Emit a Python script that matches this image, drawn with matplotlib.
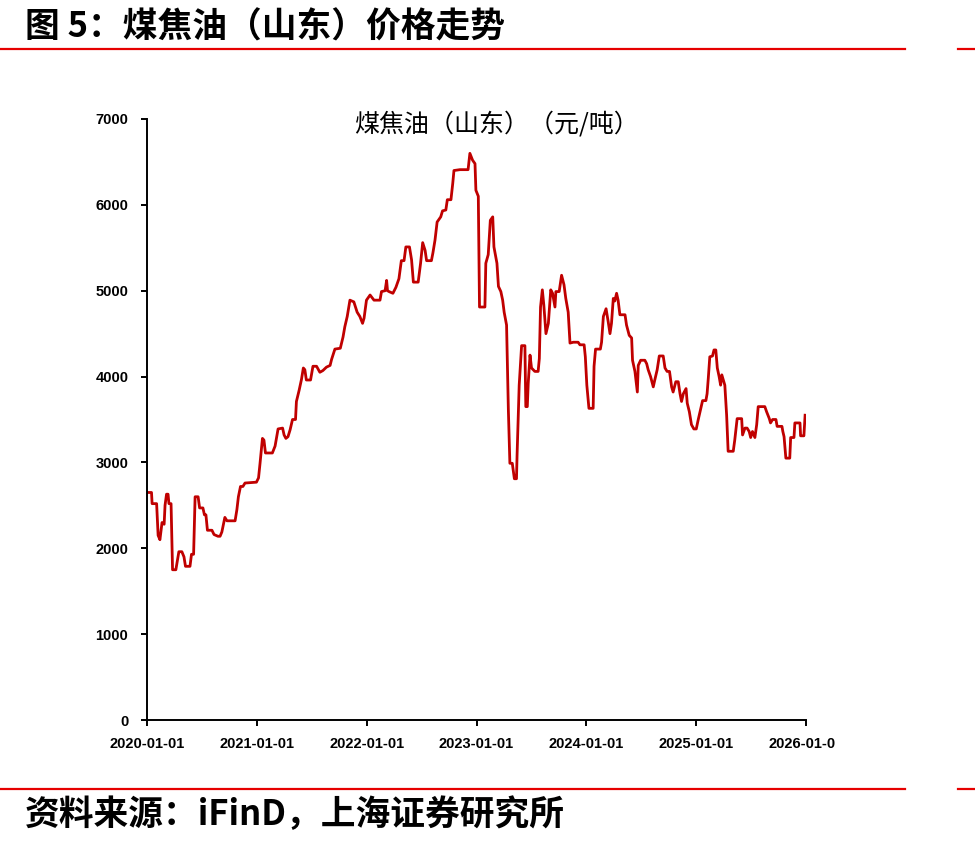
import matplotlib
matplotlib.use("Agg")
import matplotlib.pyplot as plt
import matplotlib.dates as mdates
from matplotlib.lines import Line2D
from matplotlib.transforms import Bbox, TransformedBbox
import pandas as pd

plt.rcParams['font.family'] = ['Liberation Sans', 'Noto Sans CJK SC', 'DejaVu Sans']
CJK = ['Noto Sans CJK SC', 'DejaVu Sans']

# 煤焦油（山东）价格，元/吨
dates = [
    "2020-01-01", "2020-01-16", "2020-01-18", "2020-02-02", "2020-02-07", "2020-02-13", "2020-02-20", "2020-02-27", "2020-03-01", "2020-03-06",
    "2020-03-11", "2020-03-14", "2020-03-21", "2020-03-26", "2020-04-06", "2020-04-16", "2020-04-26", "2020-05-03", "2020-05-08", "2020-05-23",
    "2020-05-28", "2020-06-04", "2020-06-09", "2020-06-19", "2020-06-24", "2020-07-05", "2020-07-10", "2020-07-15", "2020-07-20", "2020-08-04",
    "2020-08-11", "2020-08-24", "2020-08-31", "2020-09-06", "2020-09-16", "2020-09-23", "2020-10-20", "2020-10-26", "2020-10-31", "2020-11-07",
    "2020-11-15", "2020-11-22", "2020-12-30", "2021-01-06", "2021-01-11", "2021-01-19", "2021-01-24", "2021-01-29", "2021-02-21", "2021-03-02",
    "2021-03-12", "2021-03-27", "2021-04-01", "2021-04-07", "2021-04-14", "2021-04-21", "2021-04-29", "2021-05-09", "2021-05-12", "2021-05-21",
    "2021-05-29", "2021-06-04", "2021-06-09", "2021-06-14", "2021-06-28", "2021-07-06", "2021-07-18", "2021-07-29", "2021-08-08", "2021-08-20",
    "2021-09-01", "2021-09-06", "2021-09-17", "2021-10-05", "2021-10-14", "2021-10-20", "2021-10-28", "2021-11-06", "2021-11-19", "2021-11-30",
    "2021-12-09", "2021-12-18", "2021-12-23", "2021-12-31", "2022-01-12", "2022-01-25", "2022-02-14", "2022-02-19", "2022-03-03", "2022-03-08",
    "2022-03-11", "2022-03-16", "2022-03-29", "2022-04-08", "2022-04-18", "2022-04-26", "2022-05-05", "2022-05-11", "2022-05-23", "2022-05-30",
    "2022-06-05", "2022-06-21", "2022-06-29", "2022-07-06", "2022-07-14", "2022-07-19", "2022-08-04", "2022-08-09", "2022-08-16", "2022-08-23",
    "2022-09-04", "2022-09-10", "2022-09-21", "2022-09-26", "2022-10-08", "2022-10-14", "2022-10-18", "2022-11-07", "2022-12-04", "2022-12-10",
    "2022-12-19", "2022-12-27", "2022-12-30", "2023-01-07", "2023-01-11", "2023-01-29", "2023-02-01", "2023-02-09", "2023-02-16", "2023-02-24",
    "2023-02-28", "2023-03-10", "2023-03-15", "2023-03-23", "2023-03-29", "2023-04-03", "2023-04-11", "2023-04-17", "2023-04-22", "2023-04-30",
    "2023-05-07", "2023-05-14", "2023-05-16", "2023-05-23", "2023-05-31", "2023-06-11", "2023-06-14", "2023-06-19", "2023-06-22", "2023-06-28",
    "2023-07-03", "2023-07-14", "2023-07-25", "2023-07-29", "2023-08-02", "2023-08-08", "2023-08-13", "2023-08-20", "2023-08-28", "2023-09-05",
    "2023-09-11", "2023-09-19", "2023-09-22", "2023-10-03", "2023-10-11", "2023-10-19", "2023-10-25", "2023-11-02", "2023-11-08", "2023-11-19",
    "2023-12-05", "2023-12-11", "2023-12-25", "2023-12-29", "2024-01-03", "2024-01-10", "2024-01-24", "2024-01-27", "2024-02-01", "2024-02-17",
    "2024-02-21", "2024-02-27", "2024-03-07", "2024-03-14", "2024-03-20", "2024-03-25", "2024-03-31", "2024-04-05", "2024-04-11", "2024-04-16",
    "2024-04-22", "2024-05-09", "2024-05-14", "2024-05-23", "2024-05-31", "2024-06-03", "2024-06-11", "2024-06-19", "2024-06-22", "2024-06-30",
    "2024-07-14", "2024-07-20", "2024-07-25", "2024-08-02", "2024-08-11", "2024-08-16", "2024-08-24", "2024-08-31", "2024-09-13", "2024-09-19",
    "2024-09-26", "2024-10-04", "2024-10-11", "2024-10-16", "2024-10-25", "2024-11-02", "2024-11-08", "2024-11-13", "2024-11-19", "2024-11-28",
    "2024-12-02", "2024-12-09", "2024-12-16", "2024-12-24", "2025-01-01", "2025-01-07", "2025-01-15", "2025-01-22", "2025-02-02", "2025-02-06",
    "2025-02-10", "2025-02-15", "2025-02-24", "2025-03-01", "2025-03-07", "2025-03-12", "2025-03-18", "2025-03-23", "2025-03-27", "2025-04-01",
    "2025-04-06", "2025-04-12", "2025-04-17", "2025-05-04", "2025-05-09", "2025-05-17", "2025-06-01", "2025-06-04", "2025-06-12", "2025-06-19",
    "2025-06-26", "2025-07-01", "2025-07-07", "2025-07-15", "2025-07-21", "2025-07-26", "2025-08-17", "2025-08-23", "2025-09-01", "2025-09-05",
    "2025-09-12", "2025-09-23", "2025-09-27", "2025-10-13", "2025-10-16", "2025-10-20", "2025-10-26", "2025-11-08", "2025-11-11", "2025-11-22",
    "2025-11-25", "2025-12-12", "2025-12-14", "2025-12-25", "2025-12-29",
]
prices = [
    2650, 2650, 2520, 2520, 2150, 2100, 2300, 2280, 2500, 2630,
    2630, 2520, 2520, 1750, 1750, 1960, 1960, 1900, 1790, 1790,
    1930, 1930, 2600, 2600, 2470, 2470, 2390, 2390, 2210, 2210,
    2160, 2140, 2140, 2190, 2360, 2320, 2320, 2450, 2600, 2720,
    2720, 2760, 2770, 2820, 2990, 3280, 3260, 3110, 3110, 3190,
    3390, 3400, 3320, 3280, 3300, 3380, 3500, 3500, 3710, 3840,
    3970, 4100, 4080, 3960, 3960, 4120, 4120, 4050, 4070, 4110,
    4130, 4200, 4320, 4330, 4460, 4580, 4700, 4890, 4870, 4750,
    4700, 4620, 4680, 4890, 4950, 4890, 4890, 4990, 5000, 5120,
    5000, 4990, 4970, 5040, 5140, 5350, 5350, 5510, 5510, 5360,
    5100, 5100, 5320, 5560, 5470, 5350, 5350, 5440, 5590, 5800,
    5860, 5930, 5940, 6060, 6060, 6250, 6400, 6410, 6410, 6600,
    6520, 6480, 6170, 6100, 4810, 4810, 5320, 5420, 5820, 5860,
    5510, 5320, 5050, 4990, 4890, 4750, 4600, 3610, 2990, 2990,
    2810, 2810, 3090, 3900, 4360, 4360, 3650, 3650, 3920, 4250,
    4100, 4060, 4060, 4210, 4810, 5010, 4830, 4500, 4620, 5010,
    4970, 4810, 4990, 4990, 5180, 5070, 4910, 4750, 4390, 4400,
    4400, 4370, 4370, 4230, 3900, 3630, 3630, 4120, 4320, 4320,
    4400, 4700, 4790, 4640, 4500, 4620, 4910, 4880, 4970, 4890,
    4720, 4720, 4600, 4480, 4450, 4190, 4060, 3820, 4130, 4190,
    4190, 4150, 4080, 4000, 3880, 3960, 4080, 4240, 4240, 4100,
    4060, 4060, 3880, 3820, 3940, 3940, 3800, 3710, 3800, 3860,
    3690, 3590, 3440, 3390, 3390, 3490, 3610, 3720, 3720, 3800,
    3980, 4230, 4240, 4310, 4310, 4100, 4000, 3900, 4020, 3960,
    3900, 3550, 3130, 3130, 3260, 3510, 3510, 3320, 3400, 3400,
    3360, 3290, 3360, 3290, 3440, 3650, 3650, 3590, 3510, 3460,
    3500, 3500, 3420, 3420, 3360, 3300, 3050, 3050, 3290, 3290,
    3460, 3460, 3310, 3310, 3550,
]
x_start, x_end = "2020-01-01", "2026-01-01"
y_ticks = [0, 1000, 2000, 3000, 4000, 5000, 6000, 7000]

fig_title = "图 5：煤焦油（山东）价格走势"
chart_title = "煤焦油（山东）（元/吨）"
source = "资料来源：iFinD，上海证券研究所"

fig = plt.figure(figsize=(9.75, 8.48), dpi=100)
ax = fig.add_axes([147/975, 1-720/848, (806-147)/975, (720-119)/848])

ax.plot(pd.to_datetime(dates), prices, color='#C00000', lw=2.0)

ax.set_xlim(pd.Timestamp(x_start), pd.Timestamp(x_end))
ax.set_ylim(0, 7000)
ax.set_yticks(y_ticks)
ax.xaxis.set_major_locator(mdates.YearLocator())
ax.xaxis.set_major_formatter(mdates.DateFormatter('%Y-%m-%d'))

for s in ['top', 'right']:
    ax.spines[s].set_visible(False)
for s in ['left', 'bottom']:
    ax.spines[s].set_linewidth(1.4)
ax.tick_params(axis='both', direction='out', length=4.5, width=1.4)
ax.tick_params(axis='y', pad=9)
ax.tick_params(axis='x', pad=8)
for lab in ax.get_xticklabels() + ax.get_yticklabels():
    lab.set_fontsize(10.5)
    lab.set_fontweight('bold')

# right edge of the picture cuts the last date label
clip = TransformedBbox(Bbox([[0, 0], [836/975, 1]]), fig.transFigure)
for lab in ax.get_xticklabels():
    lab.set_clip_on(True)
    lab.set_clip_box(clip)

ax.text(0.53, (720-125)/601, chart_title, transform=ax.transAxes, ha='center', va='center',
        fontsize=18, fontweight='medium', family=CJK)

fig.text(25/975, 1-27/848, fig_title, ha='left', va='center', fontsize=25,
         fontweight='bold', family=CJK)
fig.text(25/975, 1-815/848, source, ha='left', va='center', fontsize=25,
         fontweight='bold', family=CJK)

for y in [49, 789]:
    fig.add_artist(Line2D([0, 905/975], [1-y/848, 1-y/848], transform=fig.transFigure, color='#E60000', lw=1.6))
    fig.add_artist(Line2D([958/975, 1], [1-y/848, 1-y/848], transform=fig.transFigure, color='#E60000', lw=1.6))

fig.savefig("out.png", dpi=100)
